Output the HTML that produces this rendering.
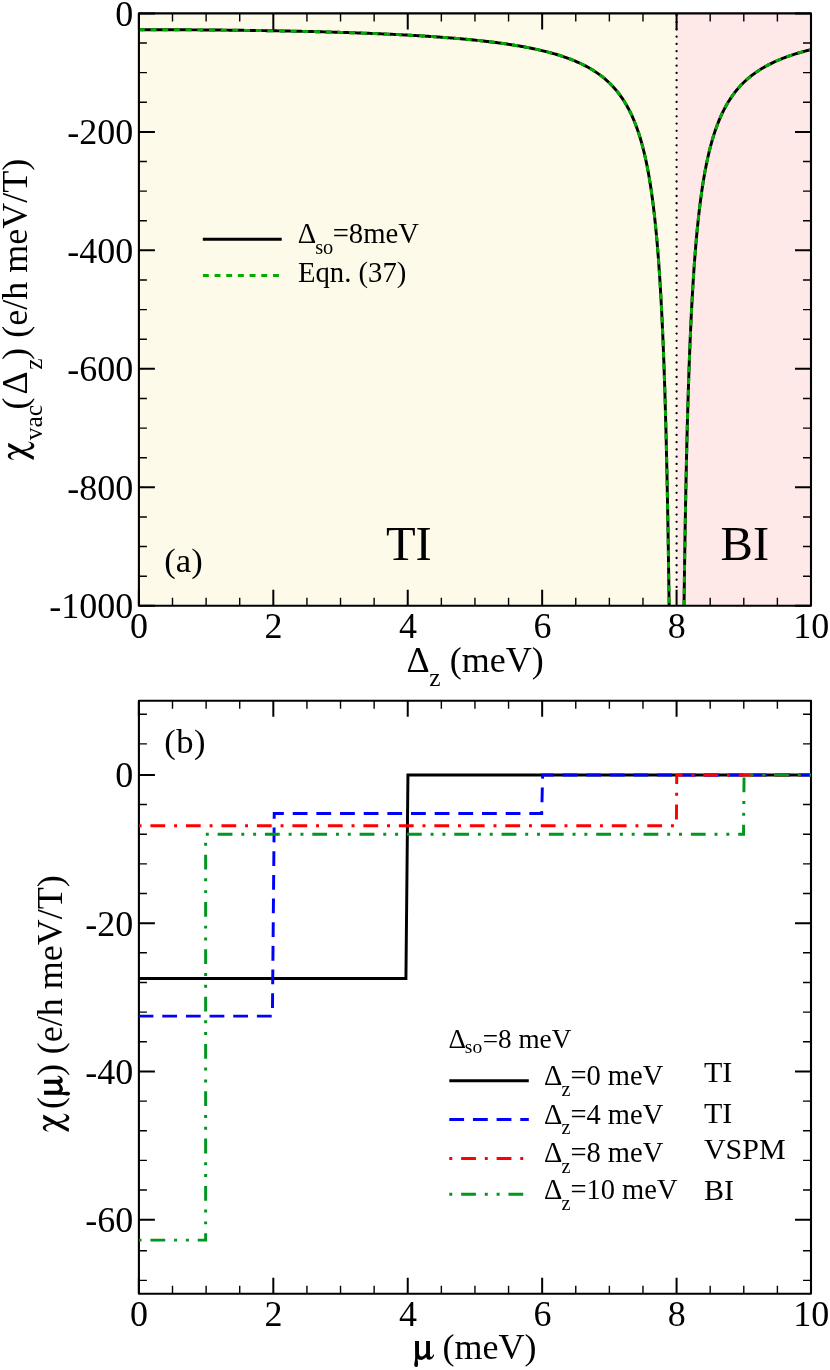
<!DOCTYPE html>
<html><head><meta charset="utf-8"><title>chart</title><style>html,body{margin:0;padding:0;background:#fff}</style></head><body>
<svg width="830" height="1370" viewBox="0 0 830 1370" style="display:block;will-change:transform">
<rect x="0" y="0" width="830" height="1370" fill="#ffffff"/>
<rect x="138.9" y="13.4" width="537.68" height="592.40" fill="#fefaea"/>
<rect x="676.58" y="13.4" width="134.42" height="592.40" fill="#fee8e8"/>
<line x1="676.58" y1="15.0" x2="676.58" y2="591.8" stroke="#000" stroke-width="2.3" stroke-linecap="round" stroke-dasharray="0 7.24"/>
<clipPath id="ca"><rect x="138.9" y="13.4" width="672.1" height="592.4"/></clipPath>
<path d="M138.90,29.69 L139.96,29.69 L141.02,29.69 L142.08,29.69 L143.14,29.69 L144.20,29.69 L145.26,29.69 L146.32,29.69 L147.38,29.70 L148.44,29.70 L149.50,29.70 L150.57,29.70 L151.63,29.70 L152.69,29.70 L153.75,29.70 L154.81,29.71 L155.87,29.71 L156.93,29.71 L157.99,29.71 L159.05,29.71 L160.11,29.72 L161.17,29.72 L162.23,29.72 L163.29,29.72 L164.35,29.73 L165.41,29.73 L166.47,29.73 L167.53,29.74 L168.59,29.74 L169.65,29.74 L170.71,29.75 L171.77,29.75 L172.84,29.76 L173.90,29.76 L174.96,29.76 L176.02,29.77 L177.08,29.77 L178.14,29.78 L179.20,29.78 L180.26,29.79 L181.32,29.79 L182.38,29.80 L183.44,29.80 L184.50,29.81 L185.56,29.81 L186.62,29.82 L187.68,29.83 L188.74,29.83 L189.80,29.84 L190.86,29.84 L191.92,29.85 L192.98,29.86 L194.04,29.86 L195.10,29.87 L196.17,29.88 L197.23,29.88 L198.29,29.89 L199.35,29.90 L200.41,29.91 L201.47,29.91 L202.53,29.92 L203.59,29.93 L204.65,29.94 L205.71,29.95 L206.77,29.95 L207.83,29.96 L208.89,29.97 L209.95,29.98 L211.01,29.99 L212.07,30.00 L213.13,30.01 L214.19,30.02 L215.25,30.03 L216.31,30.04 L217.37,30.05 L218.44,30.06 L219.50,30.07 L220.56,30.08 L221.62,30.09 L222.68,30.10 L223.74,30.11 L224.80,30.12 L225.86,30.13 L226.92,30.14 L227.98,30.15 L229.04,30.16 L230.10,30.17 L231.16,30.19 L232.22,30.20 L233.28,30.21 L234.34,30.22 L235.40,30.23 L236.46,30.25 L237.52,30.26 L238.58,30.27 L239.64,30.28 L240.71,30.30 L241.77,30.31 L242.83,30.32 L243.89,30.34 L244.95,30.35 L246.01,30.36 L247.07,30.38 L248.13,30.39 L249.19,30.41 L250.25,30.42 L251.31,30.44 L252.37,30.45 L253.43,30.47 L254.49,30.48 L255.55,30.50 L256.61,30.51 L257.67,30.53 L258.73,30.54 L259.79,30.56 L260.85,30.57 L261.91,30.59 L262.98,30.61 L264.04,30.62 L265.10,30.64 L266.16,30.66 L267.22,30.67 L268.28,30.69 L269.34,30.71 L270.40,30.73 L271.46,30.75 L272.52,30.76 L273.58,30.78 L274.64,30.80 L275.70,30.82 L276.76,30.84 L277.82,30.86 L278.88,30.88 L279.94,30.89 L281.00,30.91 L282.06,30.93 L283.12,30.95 L284.18,30.97 L285.24,30.99 L286.31,31.01 L287.37,31.04 L288.43,31.06 L289.49,31.08 L290.55,31.10 L291.61,31.12 L292.67,31.14 L293.73,31.16 L294.79,31.19 L295.85,31.21 L296.91,31.23 L297.97,31.25 L299.03,31.28 L300.09,31.30 L301.15,31.32 L302.21,31.35 L303.27,31.37 L304.33,31.39 L305.39,31.42 L306.45,31.44 L307.51,31.47 L308.58,31.49 L309.64,31.52 L310.70,31.54 L311.76,31.57 L312.82,31.59 L313.88,31.62 L314.94,31.65 L316.00,31.67 L317.06,31.70 L318.12,31.73 L319.18,31.75 L320.24,31.78 L321.30,31.81 L322.36,31.84 L323.42,31.87 L324.48,31.89 L325.54,31.92 L326.60,31.95 L327.66,31.98 L328.72,32.01 L329.78,32.04 L330.85,32.07 L331.91,32.10 L332.97,32.13 L334.03,32.16 L335.09,32.19 L336.15,32.22 L337.21,32.26 L338.27,32.29 L339.33,32.32 L340.39,32.35 L341.45,32.39 L342.51,32.42 L343.57,32.45 L344.63,32.49 L345.69,32.52 L346.75,32.55 L347.81,32.59 L348.87,32.62 L349.93,32.66 L350.99,32.69 L352.05,32.73 L353.12,32.76 L354.18,32.80 L355.24,32.84 L356.30,32.87 L357.36,32.91 L358.42,32.95 L359.48,32.99 L360.54,33.03 L361.60,33.06 L362.66,33.10 L363.72,33.14 L364.78,33.18 L365.84,33.22 L366.90,33.26 L367.96,33.30 L369.02,33.34 L370.08,33.39 L371.14,33.43 L372.20,33.47 L373.26,33.51 L374.32,33.56 L375.38,33.60 L376.45,33.64 L377.51,33.69 L378.57,33.73 L379.63,33.78 L380.69,33.82 L381.75,33.87 L382.81,33.91 L383.87,33.96 L384.93,34.01 L385.99,34.05 L387.05,34.10 L388.11,34.15 L389.17,34.20 L390.23,34.25 L391.29,34.30 L392.35,34.34 L393.41,34.40 L394.47,34.45 L395.53,34.50 L396.59,34.55 L397.65,34.60 L398.72,34.65 L399.78,34.71 L400.84,34.76 L401.90,34.81 L402.96,34.87 L404.02,34.92 L405.08,34.98 L406.14,35.04 L407.20,35.09 L408.26,35.15 L409.32,35.21 L410.38,35.27 L411.44,35.32 L412.50,35.38 L413.56,35.44 L414.62,35.50 L415.68,35.56 L416.74,35.63 L417.80,35.69 L418.86,35.75 L419.92,35.81 L420.99,35.88 L422.05,35.94 L423.11,36.01 L424.17,36.07 L425.23,36.14 L426.29,36.21 L427.35,36.27 L428.41,36.34 L429.47,36.41 L430.53,36.48 L431.59,36.55 L432.65,36.62 L433.71,36.69 L434.77,36.77 L435.83,36.84 L436.89,36.91 L437.95,36.99 L439.01,37.06 L440.07,37.14 L441.13,37.22 L442.19,37.29 L443.26,37.37 L444.32,37.45 L445.38,37.53 L446.44,37.61 L447.50,37.69 L448.56,37.78 L449.62,37.86 L450.68,37.94 L451.74,38.03 L452.80,38.11 L453.86,38.20 L454.92,38.29 L455.98,38.38 L457.04,38.47 L458.10,38.56 L459.16,38.65 L460.22,38.74 L461.28,38.83 L462.34,38.93 L463.40,39.02 L464.46,39.12 L465.53,39.22 L466.59,39.32 L467.65,39.42 L468.71,39.52 L469.77,39.62 L470.83,39.72 L471.89,39.83 L472.95,39.93 L474.01,40.04 L475.07,40.15 L476.13,40.26 L477.19,40.37 L478.25,40.48 L479.31,40.59 L480.37,40.70 L481.43,40.82 L482.49,40.94 L483.55,41.05 L484.61,41.17 L485.67,41.29 L486.73,41.42 L487.79,41.54 L488.86,41.66 L489.92,41.79 L490.98,41.92 L492.04,42.05 L493.10,42.18 L494.16,42.31 L495.22,42.45 L496.28,42.58 L497.34,42.72 L498.40,42.86 L499.46,43.00 L500.52,43.15 L501.58,43.29 L502.64,43.44 L503.70,43.59 L504.76,43.74 L505.82,43.89 L506.88,44.04 L507.94,44.20 L509.00,44.36 L510.06,44.52 L511.13,44.68 L512.19,44.85 L513.25,45.02 L514.31,45.19 L515.37,45.36 L516.43,45.53 L517.49,45.71 L518.55,45.89 L519.61,46.07 L520.67,46.25 L521.73,46.44 L522.79,46.63 L523.85,46.82 L524.91,47.02 L525.97,47.22 L527.03,47.42 L528.09,47.62 L529.15,47.83 L530.21,48.04 L531.27,48.25 L532.33,48.47 L533.40,48.69 L534.46,48.91 L535.52,49.14 L536.58,49.36 L537.64,49.60 L538.70,49.84 L539.76,50.08 L540.82,50.32 L541.88,50.57 L542.94,50.82 L544.00,51.08 L545.06,51.34 L546.12,51.61 L547.18,51.88 L548.24,52.15 L549.30,52.43 L550.36,52.71 L551.42,53.00 L552.48,53.30 L553.54,53.60 L554.60,53.90 L555.67,54.21 L556.73,54.53 L557.79,54.85 L558.85,55.17 L559.91,55.51 L560.97,55.85 L562.03,56.19 L563.09,56.54 L564.15,56.90 L565.21,57.27 L566.27,57.64 L567.33,58.02 L568.39,58.41 L569.45,58.81 L570.51,59.21 L571.57,59.62 L572.63,60.04 L573.69,60.47 L574.75,60.91 L575.81,61.36 L576.87,61.82 L577.93,62.28 L579.00,62.76 L580.06,63.25 L581.12,63.75 L582.18,64.26 L583.24,64.78 L584.30,65.31 L585.36,65.86 L586.42,66.42 L587.48,66.99 L588.54,67.58 L589.60,68.18 L590.66,68.80 L591.72,69.43 L592.78,70.08 L593.84,70.75 L594.90,71.43 L595.96,72.13 L597.02,72.85 L598.08,73.59 L599.14,74.35 L600.20,75.13 L601.27,75.93 L602.33,76.76 L603.39,77.61 L604.45,78.48 L605.51,79.38 L606.57,80.31 L607.63,81.27 L608.69,82.26 L609.75,83.28 L610.81,84.33 L611.87,85.42 L612.93,86.54 L613.99,87.70 L615.05,88.90 L616.11,90.14 L617.17,91.43 L618.23,92.77 L619.29,94.15 L620.35,95.59 L621.41,97.08 L622.47,98.64 L623.54,100.25 L624.60,101.93 L625.66,103.68 L626.72,105.50 L627.78,107.41 L628.84,109.40 L629.90,111.48 L630.96,113.65 L632.02,115.93 L633.08,118.33 L634.14,120.84 L635.20,123.48 L636.26,126.26 L637.32,129.19 L638.38,132.28 L639.44,135.55 L640.50,139.01 L641.56,142.68 L642.62,146.58 L643.68,150.74 L644.74,155.17 L645.81,159.91 L646.87,164.98 L647.93,170.43 L648.99,176.30 L650.05,182.64 L651.11,189.51 L652.17,196.97 L653.23,205.12 L654.29,214.03 L655.35,223.84 L656.41,234.69 L657.47,246.73 L658.53,260.19 L659.59,275.34 L660.65,292.49 L661.71,312.10 L662.77,334.72 L663.83,361.11 L664.89,392.28 L665.95,429.68 L667.01,475.37 L668.07,532.45 L669.14,605.80" fill="none" stroke="#000" stroke-width="2.95" clip-path="url(#ca)"/>
<path d="M138.90,29.69 L139.96,29.69 L141.02,29.69 L142.08,29.69 L143.14,29.69 L144.20,29.69 L145.26,29.69 L146.32,29.69 L147.38,29.70 L148.44,29.70 L149.50,29.70 L150.57,29.70 L151.63,29.70 L152.69,29.70 L153.75,29.70 L154.81,29.71 L155.87,29.71 L156.93,29.71 L157.99,29.71 L159.05,29.71 L160.11,29.72 L161.17,29.72 L162.23,29.72 L163.29,29.72 L164.35,29.73 L165.41,29.73 L166.47,29.73 L167.53,29.74 L168.59,29.74 L169.65,29.74 L170.71,29.75 L171.77,29.75 L172.84,29.76 L173.90,29.76 L174.96,29.76 L176.02,29.77 L177.08,29.77 L178.14,29.78 L179.20,29.78 L180.26,29.79 L181.32,29.79 L182.38,29.80 L183.44,29.80 L184.50,29.81 L185.56,29.81 L186.62,29.82 L187.68,29.83 L188.74,29.83 L189.80,29.84 L190.86,29.84 L191.92,29.85 L192.98,29.86 L194.04,29.86 L195.10,29.87 L196.17,29.88 L197.23,29.88 L198.29,29.89 L199.35,29.90 L200.41,29.91 L201.47,29.91 L202.53,29.92 L203.59,29.93 L204.65,29.94 L205.71,29.95 L206.77,29.95 L207.83,29.96 L208.89,29.97 L209.95,29.98 L211.01,29.99 L212.07,30.00 L213.13,30.01 L214.19,30.02 L215.25,30.03 L216.31,30.04 L217.37,30.05 L218.44,30.06 L219.50,30.07 L220.56,30.08 L221.62,30.09 L222.68,30.10 L223.74,30.11 L224.80,30.12 L225.86,30.13 L226.92,30.14 L227.98,30.15 L229.04,30.16 L230.10,30.17 L231.16,30.19 L232.22,30.20 L233.28,30.21 L234.34,30.22 L235.40,30.23 L236.46,30.25 L237.52,30.26 L238.58,30.27 L239.64,30.28 L240.71,30.30 L241.77,30.31 L242.83,30.32 L243.89,30.34 L244.95,30.35 L246.01,30.36 L247.07,30.38 L248.13,30.39 L249.19,30.41 L250.25,30.42 L251.31,30.44 L252.37,30.45 L253.43,30.47 L254.49,30.48 L255.55,30.50 L256.61,30.51 L257.67,30.53 L258.73,30.54 L259.79,30.56 L260.85,30.57 L261.91,30.59 L262.98,30.61 L264.04,30.62 L265.10,30.64 L266.16,30.66 L267.22,30.67 L268.28,30.69 L269.34,30.71 L270.40,30.73 L271.46,30.75 L272.52,30.76 L273.58,30.78 L274.64,30.80 L275.70,30.82 L276.76,30.84 L277.82,30.86 L278.88,30.88 L279.94,30.89 L281.00,30.91 L282.06,30.93 L283.12,30.95 L284.18,30.97 L285.24,30.99 L286.31,31.01 L287.37,31.04 L288.43,31.06 L289.49,31.08 L290.55,31.10 L291.61,31.12 L292.67,31.14 L293.73,31.16 L294.79,31.19 L295.85,31.21 L296.91,31.23 L297.97,31.25 L299.03,31.28 L300.09,31.30 L301.15,31.32 L302.21,31.35 L303.27,31.37 L304.33,31.39 L305.39,31.42 L306.45,31.44 L307.51,31.47 L308.58,31.49 L309.64,31.52 L310.70,31.54 L311.76,31.57 L312.82,31.59 L313.88,31.62 L314.94,31.65 L316.00,31.67 L317.06,31.70 L318.12,31.73 L319.18,31.75 L320.24,31.78 L321.30,31.81 L322.36,31.84 L323.42,31.87 L324.48,31.89 L325.54,31.92 L326.60,31.95 L327.66,31.98 L328.72,32.01 L329.78,32.04 L330.85,32.07 L331.91,32.10 L332.97,32.13 L334.03,32.16 L335.09,32.19 L336.15,32.22 L337.21,32.26 L338.27,32.29 L339.33,32.32 L340.39,32.35 L341.45,32.39 L342.51,32.42 L343.57,32.45 L344.63,32.49 L345.69,32.52 L346.75,32.55 L347.81,32.59 L348.87,32.62 L349.93,32.66 L350.99,32.69 L352.05,32.73 L353.12,32.76 L354.18,32.80 L355.24,32.84 L356.30,32.87 L357.36,32.91 L358.42,32.95 L359.48,32.99 L360.54,33.03 L361.60,33.06 L362.66,33.10 L363.72,33.14 L364.78,33.18 L365.84,33.22 L366.90,33.26 L367.96,33.30 L369.02,33.34 L370.08,33.39 L371.14,33.43 L372.20,33.47 L373.26,33.51 L374.32,33.56 L375.38,33.60 L376.45,33.64 L377.51,33.69 L378.57,33.73 L379.63,33.78 L380.69,33.82 L381.75,33.87 L382.81,33.91 L383.87,33.96 L384.93,34.01 L385.99,34.05 L387.05,34.10 L388.11,34.15 L389.17,34.20 L390.23,34.25 L391.29,34.30 L392.35,34.34 L393.41,34.40 L394.47,34.45 L395.53,34.50 L396.59,34.55 L397.65,34.60 L398.72,34.65 L399.78,34.71 L400.84,34.76 L401.90,34.81 L402.96,34.87 L404.02,34.92 L405.08,34.98 L406.14,35.04 L407.20,35.09 L408.26,35.15 L409.32,35.21 L410.38,35.27 L411.44,35.32 L412.50,35.38 L413.56,35.44 L414.62,35.50 L415.68,35.56 L416.74,35.63 L417.80,35.69 L418.86,35.75 L419.92,35.81 L420.99,35.88 L422.05,35.94 L423.11,36.01 L424.17,36.07 L425.23,36.14 L426.29,36.21 L427.35,36.27 L428.41,36.34 L429.47,36.41 L430.53,36.48 L431.59,36.55 L432.65,36.62 L433.71,36.69 L434.77,36.77 L435.83,36.84 L436.89,36.91 L437.95,36.99 L439.01,37.06 L440.07,37.14 L441.13,37.22 L442.19,37.29 L443.26,37.37 L444.32,37.45 L445.38,37.53 L446.44,37.61 L447.50,37.69 L448.56,37.78 L449.62,37.86 L450.68,37.94 L451.74,38.03 L452.80,38.11 L453.86,38.20 L454.92,38.29 L455.98,38.38 L457.04,38.47 L458.10,38.56 L459.16,38.65 L460.22,38.74 L461.28,38.83 L462.34,38.93 L463.40,39.02 L464.46,39.12 L465.53,39.22 L466.59,39.32 L467.65,39.42 L468.71,39.52 L469.77,39.62 L470.83,39.72 L471.89,39.83 L472.95,39.93 L474.01,40.04 L475.07,40.15 L476.13,40.26 L477.19,40.37 L478.25,40.48 L479.31,40.59 L480.37,40.70 L481.43,40.82 L482.49,40.94 L483.55,41.05 L484.61,41.17 L485.67,41.29 L486.73,41.42 L487.79,41.54 L488.86,41.66 L489.92,41.79 L490.98,41.92 L492.04,42.05 L493.10,42.18 L494.16,42.31 L495.22,42.45 L496.28,42.58 L497.34,42.72 L498.40,42.86 L499.46,43.00 L500.52,43.15 L501.58,43.29 L502.64,43.44 L503.70,43.59 L504.76,43.74 L505.82,43.89 L506.88,44.04 L507.94,44.20 L509.00,44.36 L510.06,44.52 L511.13,44.68 L512.19,44.85 L513.25,45.02 L514.31,45.19 L515.37,45.36 L516.43,45.53 L517.49,45.71 L518.55,45.89 L519.61,46.07 L520.67,46.25 L521.73,46.44 L522.79,46.63 L523.85,46.82 L524.91,47.02 L525.97,47.22 L527.03,47.42 L528.09,47.62 L529.15,47.83 L530.21,48.04 L531.27,48.25 L532.33,48.47 L533.40,48.69 L534.46,48.91 L535.52,49.14 L536.58,49.36 L537.64,49.60 L538.70,49.84 L539.76,50.08 L540.82,50.32 L541.88,50.57 L542.94,50.82 L544.00,51.08 L545.06,51.34 L546.12,51.61 L547.18,51.88 L548.24,52.15 L549.30,52.43 L550.36,52.71 L551.42,53.00 L552.48,53.30 L553.54,53.60 L554.60,53.90 L555.67,54.21 L556.73,54.53 L557.79,54.85 L558.85,55.17 L559.91,55.51 L560.97,55.85 L562.03,56.19 L563.09,56.54 L564.15,56.90 L565.21,57.27 L566.27,57.64 L567.33,58.02 L568.39,58.41 L569.45,58.81 L570.51,59.21 L571.57,59.62 L572.63,60.04 L573.69,60.47 L574.75,60.91 L575.81,61.36 L576.87,61.82 L577.93,62.28 L579.00,62.76 L580.06,63.25 L581.12,63.75 L582.18,64.26 L583.24,64.78 L584.30,65.31 L585.36,65.86 L586.42,66.42 L587.48,66.99 L588.54,67.58 L589.60,68.18 L590.66,68.80 L591.72,69.43 L592.78,70.08 L593.84,70.75 L594.90,71.43 L595.96,72.13 L597.02,72.85 L598.08,73.59 L599.14,74.35 L600.20,75.13 L601.27,75.93 L602.33,76.76 L603.39,77.61 L604.45,78.48 L605.51,79.38 L606.57,80.31 L607.63,81.27 L608.69,82.26 L609.75,83.28 L610.81,84.33 L611.87,85.42 L612.93,86.54 L613.99,87.70 L615.05,88.90 L616.11,90.14 L617.17,91.43 L618.23,92.77 L619.29,94.15 L620.35,95.59 L621.41,97.08 L622.47,98.64 L623.54,100.25 L624.60,101.93 L625.66,103.68 L626.72,105.50 L627.78,107.41 L628.84,109.40 L629.90,111.48 L630.96,113.65 L632.02,115.93 L633.08,118.33 L634.14,120.84 L635.20,123.48 L636.26,126.26 L637.32,129.19 L638.38,132.28 L639.44,135.55 L640.50,139.01 L641.56,142.68 L642.62,146.58 L643.68,150.74 L644.74,155.17 L645.81,159.91 L646.87,164.98 L647.93,170.43 L648.99,176.30 L650.05,182.64 L651.11,189.51 L652.17,196.97 L653.23,205.12 L654.29,214.03 L655.35,223.84 L656.41,234.69 L657.47,246.73 L658.53,260.19 L659.59,275.34 L660.65,292.49 L661.71,312.10 L662.77,334.72 L663.83,361.11 L664.89,392.28 L665.95,429.68 L667.01,475.37 L668.07,532.45 L669.14,605.80" fill="none" stroke="#00ac00" stroke-width="2.95" stroke-dasharray="5.9 5.78" clip-path="url(#ca)"/>
<path d="M684.02,605.80 L684.53,568.22 L685.04,535.15 L685.55,505.82 L686.06,479.64 L686.56,456.13 L687.07,434.89 L687.58,415.61 L688.09,398.03 L688.60,381.94 L689.10,367.16 L689.61,353.52 L690.12,340.91 L690.63,329.21 L691.13,318.33 L691.64,308.18 L692.15,298.70 L692.66,289.81 L693.17,281.47 L693.67,273.62 L694.18,266.22 L694.69,259.24 L695.20,252.64 L695.71,246.40 L696.21,240.47 L696.72,234.84 L697.23,229.49 L697.74,224.40 L698.25,219.54 L698.75,214.91 L699.26,210.49 L699.77,206.26 L700.28,202.21 L700.78,198.33 L701.29,194.60 L701.80,191.03 L702.31,187.60 L702.82,184.31 L703.32,181.13 L703.83,178.08 L704.34,175.14 L704.85,172.30 L705.36,169.57 L705.86,166.92 L706.37,164.37 L706.88,161.91 L707.39,159.52 L707.90,157.21 L708.40,154.98 L708.91,152.82 L709.42,150.72 L709.93,148.69 L710.43,146.71 L710.94,144.80 L711.45,142.94 L711.96,141.14 L712.47,139.38 L712.97,137.68 L713.48,136.02 L713.99,134.41 L714.50,132.84 L715.01,131.31 L715.51,129.82 L716.02,128.37 L716.53,126.96 L717.04,125.58 L717.55,124.23 L718.05,122.92 L718.56,121.64 L719.07,120.39 L719.58,119.18 L720.09,117.98 L720.59,116.82 L721.10,115.68 L721.61,114.57 L722.12,113.49 L722.62,112.42 L723.13,111.38 L723.64,110.37 L724.15,109.37 L724.66,108.40 L725.16,107.44 L725.67,106.51 L726.18,105.59 L726.69,104.70 L727.20,103.82 L727.70,102.96 L728.21,102.11 L728.72,101.28 L729.23,100.47 L729.74,99.67 L730.24,98.89 L730.75,98.13 L731.26,97.37 L731.77,96.63 L732.27,95.91 L732.78,95.20 L733.29,94.50 L733.80,93.81 L734.31,93.13 L734.81,92.47 L735.32,91.82 L735.83,91.18 L736.34,90.55 L736.85,89.93 L737.35,89.32 L737.86,88.72 L738.37,88.13 L738.88,87.55 L739.39,86.98 L739.89,86.42 L740.40,85.87 L740.91,85.33 L741.42,84.79 L741.93,84.26 L742.43,83.74 L742.94,83.23 L743.45,82.73 L743.96,82.24 L744.46,81.75 L744.97,81.27 L745.48,80.79 L745.99,80.33 L746.50,79.87 L747.00,79.41 L747.51,78.97 L748.02,78.52 L748.53,78.09 L749.04,77.66 L749.54,77.24 L750.05,76.82 L750.56,76.41 L751.07,76.01 L751.58,75.61 L752.08,75.21 L752.59,74.82 L753.10,74.44 L753.61,74.06 L754.11,73.69 L754.62,73.32 L755.13,72.95 L755.64,72.59 L756.15,72.24 L756.65,71.89 L757.16,71.54 L757.67,71.20 L758.18,70.86 L758.69,70.53 L759.19,70.20 L759.70,69.87 L760.21,69.55 L760.72,69.23 L761.23,68.92 L761.73,68.61 L762.24,68.30 L762.75,68.00 L763.26,67.70 L763.76,67.40 L764.27,67.11 L764.78,66.82 L765.29,66.53 L765.80,66.25 L766.30,65.97 L766.81,65.70 L767.32,65.42 L767.83,65.15 L768.34,64.88 L768.84,64.62 L769.35,64.36 L769.86,64.10 L770.37,63.84 L770.88,63.59 L771.38,63.34 L771.89,63.09 L772.40,62.85 L772.91,62.60 L773.42,62.36 L773.92,62.13 L774.43,61.89 L774.94,61.66 L775.45,61.43 L775.95,61.20 L776.46,60.97 L776.97,60.75 L777.48,60.53 L777.99,60.31 L778.49,60.09 L779.00,59.88 L779.51,59.67 L780.02,59.46 L780.53,59.25 L781.03,59.04 L781.54,58.84 L782.05,58.63 L782.56,58.43 L783.07,58.24 L783.57,58.04 L784.08,57.84 L784.59,57.65 L785.10,57.46 L785.60,57.27 L786.11,57.08 L786.62,56.90 L787.13,56.71 L787.64,56.53 L788.14,56.35 L788.65,56.17 L789.16,55.99 L789.67,55.81 L790.18,55.64 L790.68,55.47 L791.19,55.29 L791.70,55.12 L792.21,54.95 L792.72,54.79 L793.22,54.62 L793.73,54.46 L794.24,54.29 L794.75,54.13 L795.25,53.97 L795.76,53.81 L796.27,53.66 L796.78,53.50 L797.29,53.35 L797.79,53.19 L798.30,53.04 L798.81,52.89 L799.32,52.74 L799.83,52.59 L800.33,52.44 L800.84,52.30 L801.35,52.15 L801.86,52.01 L802.37,51.86 L802.87,51.72 L803.38,51.58 L803.89,51.44 L804.40,51.31 L804.91,51.17 L805.41,51.03 L805.92,50.90 L806.43,50.76 L806.94,50.63 L807.44,50.50 L807.95,50.37 L808.46,50.24 L808.97,50.11 L809.48,49.98 L809.98,49.85 L810.49,49.73 L811.00,49.60" fill="none" stroke="#000" stroke-width="2.95" clip-path="url(#ca)"/>
<path d="M684.02,605.80 L684.53,568.22 L685.04,535.15 L685.55,505.82 L686.06,479.64 L686.56,456.13 L687.07,434.89 L687.58,415.61 L688.09,398.03 L688.60,381.94 L689.10,367.16 L689.61,353.52 L690.12,340.91 L690.63,329.21 L691.13,318.33 L691.64,308.18 L692.15,298.70 L692.66,289.81 L693.17,281.47 L693.67,273.62 L694.18,266.22 L694.69,259.24 L695.20,252.64 L695.71,246.40 L696.21,240.47 L696.72,234.84 L697.23,229.49 L697.74,224.40 L698.25,219.54 L698.75,214.91 L699.26,210.49 L699.77,206.26 L700.28,202.21 L700.78,198.33 L701.29,194.60 L701.80,191.03 L702.31,187.60 L702.82,184.31 L703.32,181.13 L703.83,178.08 L704.34,175.14 L704.85,172.30 L705.36,169.57 L705.86,166.92 L706.37,164.37 L706.88,161.91 L707.39,159.52 L707.90,157.21 L708.40,154.98 L708.91,152.82 L709.42,150.72 L709.93,148.69 L710.43,146.71 L710.94,144.80 L711.45,142.94 L711.96,141.14 L712.47,139.38 L712.97,137.68 L713.48,136.02 L713.99,134.41 L714.50,132.84 L715.01,131.31 L715.51,129.82 L716.02,128.37 L716.53,126.96 L717.04,125.58 L717.55,124.23 L718.05,122.92 L718.56,121.64 L719.07,120.39 L719.58,119.18 L720.09,117.98 L720.59,116.82 L721.10,115.68 L721.61,114.57 L722.12,113.49 L722.62,112.42 L723.13,111.38 L723.64,110.37 L724.15,109.37 L724.66,108.40 L725.16,107.44 L725.67,106.51 L726.18,105.59 L726.69,104.70 L727.20,103.82 L727.70,102.96 L728.21,102.11 L728.72,101.28 L729.23,100.47 L729.74,99.67 L730.24,98.89 L730.75,98.13 L731.26,97.37 L731.77,96.63 L732.27,95.91 L732.78,95.20 L733.29,94.50 L733.80,93.81 L734.31,93.13 L734.81,92.47 L735.32,91.82 L735.83,91.18 L736.34,90.55 L736.85,89.93 L737.35,89.32 L737.86,88.72 L738.37,88.13 L738.88,87.55 L739.39,86.98 L739.89,86.42 L740.40,85.87 L740.91,85.33 L741.42,84.79 L741.93,84.26 L742.43,83.74 L742.94,83.23 L743.45,82.73 L743.96,82.24 L744.46,81.75 L744.97,81.27 L745.48,80.79 L745.99,80.33 L746.50,79.87 L747.00,79.41 L747.51,78.97 L748.02,78.52 L748.53,78.09 L749.04,77.66 L749.54,77.24 L750.05,76.82 L750.56,76.41 L751.07,76.01 L751.58,75.61 L752.08,75.21 L752.59,74.82 L753.10,74.44 L753.61,74.06 L754.11,73.69 L754.62,73.32 L755.13,72.95 L755.64,72.59 L756.15,72.24 L756.65,71.89 L757.16,71.54 L757.67,71.20 L758.18,70.86 L758.69,70.53 L759.19,70.20 L759.70,69.87 L760.21,69.55 L760.72,69.23 L761.23,68.92 L761.73,68.61 L762.24,68.30 L762.75,68.00 L763.26,67.70 L763.76,67.40 L764.27,67.11 L764.78,66.82 L765.29,66.53 L765.80,66.25 L766.30,65.97 L766.81,65.70 L767.32,65.42 L767.83,65.15 L768.34,64.88 L768.84,64.62 L769.35,64.36 L769.86,64.10 L770.37,63.84 L770.88,63.59 L771.38,63.34 L771.89,63.09 L772.40,62.85 L772.91,62.60 L773.42,62.36 L773.92,62.13 L774.43,61.89 L774.94,61.66 L775.45,61.43 L775.95,61.20 L776.46,60.97 L776.97,60.75 L777.48,60.53 L777.99,60.31 L778.49,60.09 L779.00,59.88 L779.51,59.67 L780.02,59.46 L780.53,59.25 L781.03,59.04 L781.54,58.84 L782.05,58.63 L782.56,58.43 L783.07,58.24 L783.57,58.04 L784.08,57.84 L784.59,57.65 L785.10,57.46 L785.60,57.27 L786.11,57.08 L786.62,56.90 L787.13,56.71 L787.64,56.53 L788.14,56.35 L788.65,56.17 L789.16,55.99 L789.67,55.81 L790.18,55.64 L790.68,55.47 L791.19,55.29 L791.70,55.12 L792.21,54.95 L792.72,54.79 L793.22,54.62 L793.73,54.46 L794.24,54.29 L794.75,54.13 L795.25,53.97 L795.76,53.81 L796.27,53.66 L796.78,53.50 L797.29,53.35 L797.79,53.19 L798.30,53.04 L798.81,52.89 L799.32,52.74 L799.83,52.59 L800.33,52.44 L800.84,52.30 L801.35,52.15 L801.86,52.01 L802.37,51.86 L802.87,51.72 L803.38,51.58 L803.89,51.44 L804.40,51.31 L804.91,51.17 L805.41,51.03 L805.92,50.90 L806.43,50.76 L806.94,50.63 L807.44,50.50 L807.95,50.37 L808.46,50.24 L808.97,50.11 L809.48,49.98 L809.98,49.85 L810.49,49.73 L811.00,49.60" fill="none" stroke="#00ac00" stroke-width="2.95" stroke-dasharray="5.9 5.78" clip-path="url(#ca)"/>
<path d="M138.90,13.4v16.0 M138.90,605.8v-16.0 M273.32,13.4v16.0 M273.32,605.8v-16.0 M407.74,13.4v16.0 M407.74,605.8v-16.0 M542.16,13.4v16.0 M542.16,605.8v-16.0 M676.58,13.4v16.0 M676.58,605.8v-16.0 M811.00,13.4v16.0 M811.00,605.8v-16.0 M138.9,13.40h16.0 M811.0,13.40h-16.0 M138.9,131.88h16.0 M811.0,131.88h-16.0 M138.9,250.36h16.0 M811.0,250.36h-16.0 M138.9,368.84h16.0 M811.0,368.84h-16.0 M138.9,487.32h16.0 M811.0,487.32h-16.0 M138.9,605.80h16.0 M811.0,605.80h-16.0" stroke="#000" stroke-width="2" fill="none"/>
<path d="M172.50,13.4v8.0 M172.50,605.8v-8.0 M206.11,13.4v8.0 M206.11,605.8v-8.0 M239.72,13.4v8.0 M239.72,605.8v-8.0 M306.93,13.4v8.0 M306.93,605.8v-8.0 M340.53,13.4v8.0 M340.53,605.8v-8.0 M374.13,13.4v8.0 M374.13,605.8v-8.0 M441.35,13.4v8.0 M441.35,605.8v-8.0 M474.95,13.4v8.0 M474.95,605.8v-8.0 M508.56,13.4v8.0 M508.56,605.8v-8.0 M575.77,13.4v8.0 M575.77,605.8v-8.0 M609.37,13.4v8.0 M609.37,605.8v-8.0 M642.98,13.4v8.0 M642.98,605.8v-8.0 M710.19,13.4v8.0 M710.19,605.8v-8.0 M743.79,13.4v8.0 M743.79,605.8v-8.0 M777.39,13.4v8.0 M777.39,605.8v-8.0 M138.9,43.02h8.0 M811.0,43.02h-8.0 M138.9,72.64h8.0 M811.0,72.64h-8.0 M138.9,102.26h8.0 M811.0,102.26h-8.0 M138.9,161.50h8.0 M811.0,161.50h-8.0 M138.9,191.12h8.0 M811.0,191.12h-8.0 M138.9,220.74h8.0 M811.0,220.74h-8.0 M138.9,279.98h8.0 M811.0,279.98h-8.0 M138.9,309.60h8.0 M811.0,309.60h-8.0 M138.9,339.22h8.0 M811.0,339.22h-8.0 M138.9,398.46h8.0 M811.0,398.46h-8.0 M138.9,428.08h8.0 M811.0,428.08h-8.0 M138.9,457.70h8.0 M811.0,457.70h-8.0 M138.9,516.94h8.0 M811.0,516.94h-8.0 M138.9,546.56h8.0 M811.0,546.56h-8.0 M138.9,576.18h8.0 M811.0,576.18h-8.0" stroke="#000" stroke-width="1.4" fill="none"/>
<rect x="138.9" y="13.4" width="672.10" height="592.40" fill="none" stroke="#000" stroke-width="2.1" stroke-linejoin="round"/>
<text x="133.3" y="25.7" font-family="Liberation Serif, serif" font-size="36" text-anchor="end">0</text>
<text x="133.3" y="144.2" font-family="Liberation Serif, serif" font-size="36" text-anchor="end">-200</text>
<text x="133.3" y="262.7" font-family="Liberation Serif, serif" font-size="36" text-anchor="end">-400</text>
<text x="133.3" y="381.1" font-family="Liberation Serif, serif" font-size="36" text-anchor="end">-600</text>
<text x="133.3" y="499.6" font-family="Liberation Serif, serif" font-size="36" text-anchor="end">-800</text>
<text x="133.3" y="618.1" font-family="Liberation Serif, serif" font-size="36" text-anchor="end">-1000</text>
<text x="139.1" y="638.3" font-family="Liberation Serif, serif" font-size="36" text-anchor="middle">0</text>
<text x="273.5" y="638.3" font-family="Liberation Serif, serif" font-size="36" text-anchor="middle">2</text>
<text x="407.9" y="638.3" font-family="Liberation Serif, serif" font-size="36" text-anchor="middle">4</text>
<text x="542.4" y="638.3" font-family="Liberation Serif, serif" font-size="36" text-anchor="middle">6</text>
<text x="676.8" y="638.3" font-family="Liberation Serif, serif" font-size="36" text-anchor="middle">8</text>
<text x="811.2" y="638.3" font-family="Liberation Serif, serif" font-size="36" text-anchor="middle">10</text>
<text x="406.5" y="671.8" font-family="Liberation Serif, serif" font-size="36">Δ</text>
<text x="429.3" y="686" font-family="Liberation Serif, serif" font-size="25.5">z</text>
<text x="449.8" y="671.8" font-family="Liberation Serif, serif" font-size="36">(meV)</text>
<g transform="translate(0,433.1) scale(0.04819)" fill="#000"><path d="M170,198 L170,284 L698,558 L705,486 Z"/><path d="M570,180 C650,182 714,215 712,270 C710,325 640,348 560,362 L400,390 C320,408 240,428 222,470 C214,508 255,537 300,553 C225,550 160,520 163,468 C166,415 230,397 310,382 L470,348 C560,332 636,304 648,258 C652,215 605,193 570,180 Z"/></g>
<text transform="translate(42,440.3) rotate(-90)" font-family="Liberation Serif, serif" font-size="25.5">vac</text>
<text transform="translate(27,409.5) rotate(-90)" font-family="Liberation Serif, serif" font-size="36">(</text>
<text transform="translate(27,394.5) rotate(-90)" font-family="Liberation Serif, serif" font-size="36">Δ</text>
<text transform="translate(42,369.8) rotate(-90)" font-family="Liberation Serif, serif" font-size="25.5">z</text>
<text transform="translate(27,360) rotate(-90)" font-family="Liberation Serif, serif" font-size="36">)</text>
<text transform="translate(27,337.7) rotate(-90)" font-family="Liberation Serif, serif" font-size="36">(e/h meV/T)</text>
<line x1="202.8" y1="239.3" x2="281.7" y2="239.3" stroke="#000" stroke-width="2.95"/>
<line x1="202.9" y1="275.5" x2="281.7" y2="275.5" stroke="#00ac00" stroke-width="2.95" stroke-dasharray="5.9 5.78"/>
<text x="297.8" y="242.5" font-family="Liberation Serif, serif" font-size="28.7">Δ</text>
<text x="315.2" y="254.1" font-family="Liberation Serif, serif" font-size="20.4">so</text>
<text x="332.7" y="242.5" font-family="Liberation Serif, serif" font-size="28.7">=8meV</text>
<text x="298" y="281.6" font-family="Liberation Serif, serif" font-size="28.7">Eqn. (37)</text>
<text x="164.3" y="572" font-family="Liberation Serif, serif" font-size="34.6">(a)</text>
<text x="385.9" y="560" font-family="Liberation Serif, serif" font-size="48.5">TI</text>
<text x="720.6" y="560.2" font-family="Liberation Serif, serif" font-size="48.5">BI</text>
<path d="M138.90,700.8v16.0 M138.90,1293.8v-16.0 M273.32,700.8v16.0 M273.32,1293.8v-16.0 M407.74,700.8v16.0 M407.74,1293.8v-16.0 M542.16,700.8v16.0 M542.16,1293.8v-16.0 M676.58,700.8v16.0 M676.58,1293.8v-16.0 M811.00,700.8v16.0 M811.00,1293.8v-16.0 M138.9,774.92h16.0 M811.0,774.92h-16.0 M138.9,923.17h16.0 M811.0,923.17h-16.0 M138.9,1071.42h16.0 M811.0,1071.42h-16.0 M138.9,1219.67h16.0 M811.0,1219.67h-16.0" stroke="#000" stroke-width="2" fill="none"/>
<path d="M172.50,700.8v8.0 M172.50,1293.8v-8.0 M206.11,700.8v8.0 M206.11,1293.8v-8.0 M239.72,700.8v8.0 M239.72,1293.8v-8.0 M306.93,700.8v8.0 M306.93,1293.8v-8.0 M340.53,700.8v8.0 M340.53,1293.8v-8.0 M374.13,700.8v8.0 M374.13,1293.8v-8.0 M441.35,700.8v8.0 M441.35,1293.8v-8.0 M474.95,700.8v8.0 M474.95,1293.8v-8.0 M508.56,700.8v8.0 M508.56,1293.8v-8.0 M575.77,700.8v8.0 M575.77,1293.8v-8.0 M609.37,700.8v8.0 M609.37,1293.8v-8.0 M642.98,700.8v8.0 M642.98,1293.8v-8.0 M710.19,700.8v8.0 M710.19,1293.8v-8.0 M743.79,700.8v8.0 M743.79,1293.8v-8.0 M777.39,700.8v8.0 M777.39,1293.8v-8.0 M138.9,714.22h8.0 M811.0,714.22h-8.0 M138.9,743.87h8.0 M811.0,743.87h-8.0 M138.9,804.57h8.0 M811.0,804.57h-8.0 M138.9,834.22h8.0 M811.0,834.22h-8.0 M138.9,863.88h8.0 M811.0,863.88h-8.0 M138.9,893.52h8.0 M811.0,893.52h-8.0 M138.9,952.82h8.0 M811.0,952.82h-8.0 M138.9,982.47h8.0 M811.0,982.47h-8.0 M138.9,1012.12h8.0 M811.0,1012.12h-8.0 M138.9,1041.77h8.0 M811.0,1041.77h-8.0 M138.9,1101.08h8.0 M811.0,1101.08h-8.0 M138.9,1130.72h8.0 M811.0,1130.72h-8.0 M138.9,1160.38h8.0 M811.0,1160.38h-8.0 M138.9,1190.02h8.0 M811.0,1190.02h-8.0 M138.9,1250.73h8.0 M811.0,1250.73h-8.0 M138.9,1280.38h8.0 M811.0,1280.38h-8.0" stroke="#000" stroke-width="1.4" fill="none"/>
<rect x="138.9" y="700.8" width="672.10" height="593.00" fill="none" stroke="#000" stroke-width="2.1" stroke-linejoin="round"/>
<text x="133.3" y="787.2" font-family="Liberation Serif, serif" font-size="36" text-anchor="end">0</text>
<text x="133.3" y="935.5" font-family="Liberation Serif, serif" font-size="36" text-anchor="end">-20</text>
<text x="133.3" y="1083.7" font-family="Liberation Serif, serif" font-size="36" text-anchor="end">-40</text>
<text x="133.3" y="1232.0" font-family="Liberation Serif, serif" font-size="36" text-anchor="end">-60</text>
<text x="139.1" y="1325.6" font-family="Liberation Serif, serif" font-size="36" text-anchor="middle">0</text>
<text x="273.5" y="1325.6" font-family="Liberation Serif, serif" font-size="36" text-anchor="middle">2</text>
<text x="407.9" y="1325.6" font-family="Liberation Serif, serif" font-size="36" text-anchor="middle">4</text>
<text x="542.4" y="1325.6" font-family="Liberation Serif, serif" font-size="36" text-anchor="middle">6</text>
<text x="676.8" y="1325.6" font-family="Liberation Serif, serif" font-size="36" text-anchor="middle">8</text>
<text x="811.2" y="1325.6" font-family="Liberation Serif, serif" font-size="36" text-anchor="middle">10</text>
<path transform="translate(414.2,1359) scale(0.04819) translate(-190,-602)" d="M207,228 L290,228 L290,490 C295,545 330,565 370,545 C400,530 425,505 437,480 L437,228 L517,228 L517,520 C517,560 540,575 565,545 C578,530 588,515 592,505 L605,520 C590,570 555,620 500,618 C465,616 445,590 438,560 C410,600 360,625 315,620 C290,618 268,605 258,590 C262,640 275,680 270,720 C265,760 245,772 228,770 C200,765 185,735 192,700 C198,660 212,620 210,560 Z" fill="#000"/>
<text x="442.5" y="1359" font-family="Liberation Serif, serif" font-size="36">(meV)</text>
<g transform="translate(35,1105) scale(0.04819)" fill="#000"><path d="M170,198 L170,284 L698,558 L705,486 Z"/><path d="M570,180 C650,182 714,215 712,270 C710,325 640,348 560,362 L400,390 C320,408 240,428 222,470 C214,508 255,537 300,553 C225,550 160,520 163,468 C166,415 230,397 310,382 L470,348 C560,332 636,304 648,258 C652,215 605,193 570,180 Z"/></g>
<text transform="translate(62,1109) rotate(-90)" font-family="Liberation Serif, serif" font-size="36">(</text>
<path transform="translate(62,1095.6) rotate(-90) scale(0.04819) translate(-190,-602)" d="M207,228 L290,228 L290,490 C295,545 330,565 370,545 C400,530 425,505 437,480 L437,228 L517,228 L517,520 C517,560 540,575 565,545 C578,530 588,515 592,505 L605,520 C590,570 555,620 500,618 C465,616 445,590 438,560 C410,600 360,625 315,620 C290,618 268,605 258,590 C262,640 275,680 270,720 C265,760 245,772 228,770 C200,765 185,735 192,700 C198,660 212,620 210,560 Z" fill="#000"/>
<text transform="translate(62,1076.1) rotate(-90)" font-family="Liberation Serif, serif" font-size="36">)</text>
<text transform="translate(62,1054.3) rotate(-90)" font-family="Liberation Serif, serif" font-size="36">(e/h meV/T)</text>
<text x="164.3" y="753" font-family="Liberation Serif, serif" font-size="34.6" letter-spacing="0.5">(b)</text>
<clipPath id="cb"><rect x="138.9" y="700.8" width="672.1" height="593.0"/></clipPath>
<g fill="none" stroke-width="2.95" stroke-linejoin="miter" clip-path="url(#cb)">
<path d="M138.60,978.55 L405.93,978.55 L407.94,774.92 L811.00,774.92" stroke="#000"/>
<path d="M138.60,1016.13 L272.41,1016.13 L274.23,813.54 L541.71,813.54 L542.61,774.92 L811.00,774.92" stroke="#0000ff" stroke-dasharray="14.79 8.87"/>
<path d="M138.60,825.77 L676.40,825.77 L676.76,774.92 L811.00,774.92" stroke="#ff0000" stroke-dasharray="2.96 8.87 14.79 8.87"/>
<path d="M138.60,1240.13 L205.64,1240.13 L205.64,834.15 L743.52,834.15 L744.06,774.92 L811.00,774.92" stroke="#00961f" stroke-dasharray="2.96 8.87 14.79 8.87 2.96 8.87"/>
</g>
<text x="448.5" y="1047.5" font-family="Liberation Serif, serif" font-size="27.2">Δ</text>
<text x="464.8" y="1052.9" font-family="Liberation Serif, serif" font-size="19.5">so</text>
<text x="482.7" y="1047.5" font-family="Liberation Serif, serif" font-size="27.2">=8 meV</text>
<line x1="449.3" y1="1080.7" x2="528.8" y2="1080.7" stroke="#000" stroke-width="2.95"/>
<text x="543.9" y="1085.0" font-family="Liberation Serif, serif" font-size="28.5">Δ</text>
<text x="561.4" y="1095.5" font-family="Liberation Serif, serif" font-size="20.2">z</text>
<text x="570.4" y="1085.0" font-family="Liberation Serif, serif" font-size="28.5">=0 meV</text>
<text x="703.9" y="1082.2" font-family="Liberation Serif, serif" font-size="30">TI</text>
<line x1="449.3" y1="1119.5" x2="528.8" y2="1119.5" stroke="#0000ff" stroke-width="2.95" stroke-dasharray="14.79 8.87"/>
<text x="543.9" y="1123.8" font-family="Liberation Serif, serif" font-size="28.5">Δ</text>
<text x="561.4" y="1134.3" font-family="Liberation Serif, serif" font-size="20.2">z</text>
<text x="570.4" y="1123.8" font-family="Liberation Serif, serif" font-size="28.5">=4 meV</text>
<text x="703.9" y="1122.7" font-family="Liberation Serif, serif" font-size="30">TI</text>
<line x1="449.3" y1="1158.4" x2="528.8" y2="1158.4" stroke="#ff0000" stroke-width="2.95" stroke-dasharray="2.96 8.87 14.79 8.87"/>
<text x="543.9" y="1162.1" font-family="Liberation Serif, serif" font-size="28.5">Δ</text>
<text x="561.4" y="1172.6" font-family="Liberation Serif, serif" font-size="20.2">z</text>
<text x="570.4" y="1162.1" font-family="Liberation Serif, serif" font-size="28.5">=8 meV</text>
<text x="703.9" y="1158.9" font-family="Liberation Serif, serif" font-size="30">VSPM</text>
<line x1="449.3" y1="1194.3" x2="528.8" y2="1194.3" stroke="#00961f" stroke-width="2.95" stroke-dasharray="2.96 8.87 14.79 8.87 2.96 8.87"/>
<text x="543.9" y="1199.2" font-family="Liberation Serif, serif" font-size="28.5">Δ</text>
<text x="561.4" y="1209.7" font-family="Liberation Serif, serif" font-size="20.2">z</text>
<text x="570.4" y="1199.2" font-family="Liberation Serif, serif" font-size="28.5">=10 meV</text>
<text x="703.9" y="1199.5" font-family="Liberation Serif, serif" font-size="30">BI</text>
</svg>
</body></html>
